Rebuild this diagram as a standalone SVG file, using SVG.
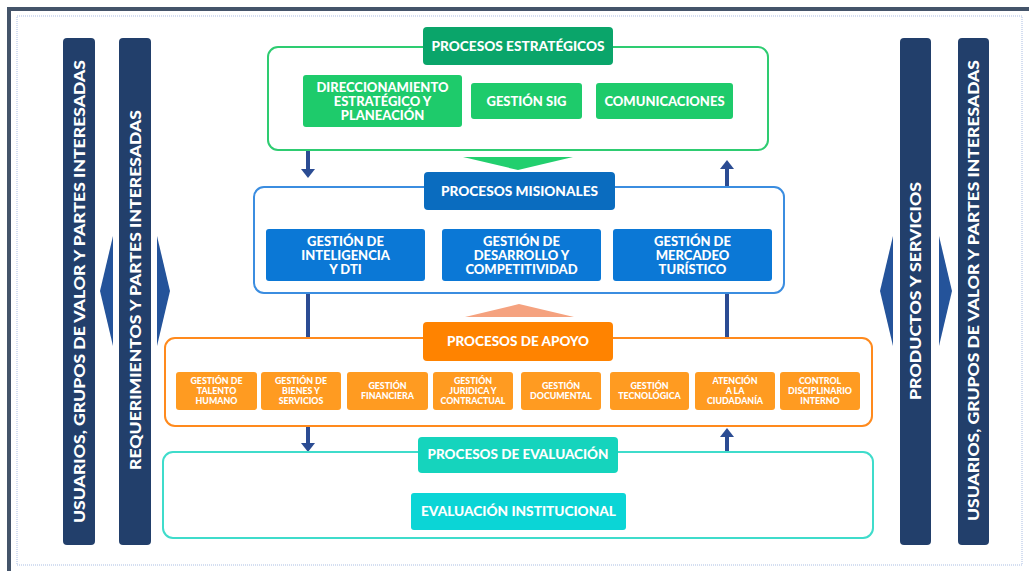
<svg xmlns="http://www.w3.org/2000/svg" width="1029" height="571" viewBox="0 0 1029 571">
<style>
text{font-family:Lato,"Open Sans","Liberation Sans",sans-serif;font-weight:900;fill:#fff;text-anchor:middle}
.bar{fill:#223f6b}
.side{fill:#24539a}
.conn{stroke:#2b4c93;stroke-width:4;fill:none}
.head{fill:#2b4c93}
.h{font-size:13px}
.b{font-size:13px}
.s{font-size:8.8px}
.v{font-size:15.5px}
</style>
<rect width="1029" height="571" fill="#fff"/>
<g id="frame">
<path d="M9,571 V9 H1029" fill="none" stroke="#44546a" stroke-width="4"/>
<rect x="17" y="16" width="1005" height="549" fill="none" stroke="#a9bde3" stroke-width="1" stroke-dasharray="1,1"/>
</g>
<g id="bar-usuarios-left">
<rect class="bar" x="63" y="38" width="32" height="507" rx="4"/>
<text class="v" transform="translate(84.5,291.5) rotate(-90)" textLength="463" lengthAdjust="spacingAndGlyphs">USUARIOS, GRUPOS DE VALOR Y PARTES INTERESADAS</text>
</g>
<g id="bar-requerimientos">
<rect class="bar" x="119" y="38" width="32" height="507" rx="4"/>
<text class="v" transform="translate(140.5,290) rotate(-90)" textLength="360" lengthAdjust="spacingAndGlyphs">REQUERIMIENTOS Y PARTES INTERESADAS</text>
</g>
<g id="bar-productos">
<rect class="bar" x="900" y="38" width="31" height="507" rx="4"/>
<text class="v" transform="translate(921,291) rotate(-90)" textLength="218" lengthAdjust="spacingAndGlyphs">PRODUCTOS Y SERVICIOS</text>
</g>
<g id="bar-usuarios-right">
<rect class="bar" x="958" y="38" width="31" height="507" rx="4"/>
<text class="v" transform="translate(979,290.5) rotate(-90)" textLength="461" lengthAdjust="spacingAndGlyphs">USUARIOS, GRUPOS DE VALOR Y PARTES INTERESADAS</text>
</g>
<g id="side-arrows">
<polygon class="side" points="100,291 113,236 113,346"/>
<polygon class="side" points="170,291 157,236 157,346"/>
<polygon class="side" points="880,291 893,236 893,346"/>
<polygon class="side" points="952,291 939,236 939,346"/>
</g>
<g id="connectors">
<line class="conn" x1="308" y1="150" x2="308" y2="171"/>
<polygon class="head" points="301,169 315,169 308,178"/>
<line class="conn" x1="727" y1="187" x2="727" y2="167"/>
<polygon class="head" points="720,169 734,169 727,160"/>
<line class="conn" x1="308" y1="293" x2="308" y2="338"/>
<line class="conn" x1="727" y1="293" x2="727" y2="338"/>
<line class="conn" x1="308" y1="426" x2="308" y2="445"/>
<polygon class="head" points="301,443 315,443 308,452"/>
<line class="conn" x1="727" y1="452" x2="727" y2="435"/>
<polygon class="head" points="720,437 734,437 727,428"/>
<polygon points="463,157 573,157 518,170" fill="#22cf6e"/>
<polygon points="465,317 574,317 519,304" fill="#f5a27f"/>
</g>
<g id="estrategicos">
<rect x="268" y="47" width="500" height="103" rx="10" fill="#fff" stroke="#2ecc71" stroke-width="2"/>
<rect x="423" y="27" width="190" height="38" rx="4" fill="#0aa56a"/>
<text class="h" x="518" y="50.5" textLength="173" lengthAdjust="spacingAndGlyphs">PROCESOS ESTRATÉGICOS</text>
</g>
<g id="direccionamiento">
<rect x="303" y="75" width="159" height="52" rx="3" fill="#1ecb6b"/>
<text class="b" x="382.5" y="91.5">DIRECCIONAMIENTO</text>
<text class="b" x="382.5" y="105.5">ESTRATÉGICO Y</text>
<text class="b" x="382.5" y="119.5">PLANEACIÓN</text>
</g>
<g id="gestion-sig">
<rect x="471" y="83" width="111" height="36" rx="3" fill="#1ecb6b"/>
<text class="b" x="526.5" y="105.5">GESTIÓN SIG</text>
</g>
<g id="comunicaciones">
<rect x="596" y="83" width="137" height="36" rx="3" fill="#1ecb6b"/>
<text class="b" x="664.5" y="105.5">COMUNICACIONES</text>
</g>
<g id="misionales">
<rect x="254" y="187" width="530" height="106" rx="10" fill="#fff" stroke="#3b8de0" stroke-width="2"/>
<rect x="424" y="172" width="191" height="38" rx="4" fill="#0a6cbf"/>
<text class="h" x="519.5" y="195.5" textLength="157" lengthAdjust="spacingAndGlyphs">PROCESOS MISIONALES</text>
</g>
<g id="inteligencia">
<rect x="266" y="229" width="159" height="52" rx="3" fill="#0b78d6"/>
<text class="b" x="345.5" y="246">GESTIÓN DE</text>
<text class="b" x="345.5" y="260">INTELIGENCIA</text>
<text class="b" x="345.5" y="274">Y DTI</text>
</g>
<g id="desarrollo">
<rect x="442" y="229" width="159" height="52" rx="3" fill="#0b78d6"/>
<text class="b" x="521.5" y="246">GESTIÓN DE</text>
<text class="b" x="521.5" y="260">DESARROLLO Y</text>
<text class="b" x="521.5" y="274">COMPETITIVIDAD</text>
</g>
<g id="mercadeo">
<rect x="613" y="229" width="159" height="52" rx="3" fill="#0b78d6"/>
<text class="b" x="692.5" y="246">GESTIÓN DE</text>
<text class="b" x="692.5" y="260">MERCADEO</text>
<text class="b" x="692.5" y="274">TURÍSTICO</text>
</g>
<g id="apoyo">
<rect x="165" y="338" width="707" height="88" rx="10" fill="#fff" stroke="#ff8a1d" stroke-width="2"/>
<rect x="423" y="322" width="190" height="39" rx="4" fill="#ff8300"/>
<text class="h" x="518" y="345.5" textLength="142" lengthAdjust="spacingAndGlyphs">PROCESOS DE APOYO</text>
</g>
<g id="talento">
<rect x="176" y="372" width="81" height="38" rx="3" fill="#ff9b21"/>
<text class="s" x="216.5" y="384">GESTIÓN DE</text>
<text class="s" x="216.5" y="394">TALENTO</text>
<text class="s" x="216.5" y="404">HUMANO</text>
</g>
<g id="bienes">
<rect x="261" y="372" width="80" height="38" rx="3" fill="#ff9b21"/>
<text class="s" x="301" y="384">GESTIÓN DE</text>
<text class="s" x="301" y="394">BIENES Y</text>
<text class="s" x="301" y="404">SERVICIOS</text>
</g>
<g id="financiera">
<rect x="347" y="372" width="81" height="38" rx="3" fill="#ff9b21"/>
<text class="s" x="387.5" y="388.5">GESTIÓN</text>
<text class="s" x="387.5" y="398.5">FINANCIERA</text>
</g>
<g id="juridica">
<rect x="433" y="372" width="80" height="38" rx="3" fill="#ff9b21"/>
<text class="s" x="473" y="384">GESTIÓN</text>
<text class="s" x="473" y="394">JURIDICA Y</text>
<text class="s" x="473" y="404">CONTRACTUAL</text>
</g>
<g id="documental">
<rect x="521" y="372" width="80" height="38" rx="3" fill="#ff9b21"/>
<text class="s" x="561" y="388.5">GESTIÓN</text>
<text class="s" x="561" y="398.5">DOCUMENTAL</text>
</g>
<g id="tecnologica">
<rect x="610" y="372" width="79" height="38" rx="3" fill="#ff9b21"/>
<text class="s" x="649.5" y="388.5">GESTIÓN</text>
<text class="s" x="649.5" y="398.5">TECNOLÓGICA</text>
</g>
<g id="ciudadania">
<rect x="695" y="372" width="80" height="38" rx="3" fill="#ff9b21"/>
<text class="s" x="735" y="384">ATENCIÓN</text>
<text class="s" x="735" y="394">A LA</text>
<text class="s" x="735" y="404">CIUDADANÍA</text>
</g>
<g id="disciplinario">
<rect x="780" y="372" width="80" height="38" rx="3" fill="#ff9b21"/>
<text class="s" x="820" y="384">CONTROL</text>
<text class="s" x="820" y="394">DISCIPLINARIO</text>
<text class="s" x="820" y="404">INTERNO</text>
</g>
<g id="evaluacion">
<rect x="163" y="452" width="710" height="86" rx="10" fill="#fff" stroke="#3fdccb" stroke-width="2"/>
<rect x="418" y="437" width="200" height="36" rx="4" fill="#15d4bd"/>
<text class="h" x="518" y="458.5" textLength="181" lengthAdjust="spacingAndGlyphs">PROCESOS DE EVALUACIÓN</text>
</g>
<g id="institucional">
<rect x="411" y="493" width="215" height="37" rx="3" fill="#0bd5d6"/>
<text class="h" x="518.5" y="516" textLength="195" lengthAdjust="spacingAndGlyphs">EVALUACIÓN INSTITUCIONAL</text>
</g>
</svg>
